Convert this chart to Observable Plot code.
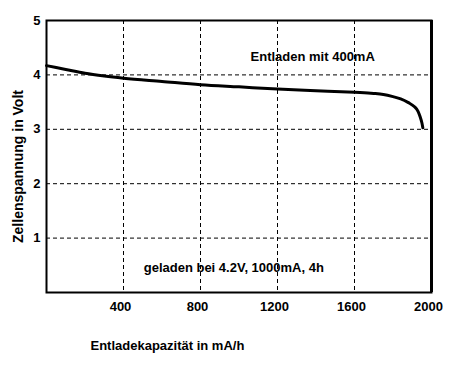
<!DOCTYPE html>
<html>
<head>
<meta charset="utf-8">
<script src="https://cdn.jsdelivr.net/npm/d3@7"></script>
<script src="https://cdn.jsdelivr.net/npm/@observablehq/plot@0.6"></script>
<style>
  html, body { margin: 0; padding: 0; background: #fff; }
  #chart svg { display: block; }
</style>
</head>
<body>
<div id="chart"></div>
<script>
const capacity = [0, 100, 200, 300, 400, 600, 800, 1000, 1200, 1400, 1600, 1700, 1750, 1800, 1840, 1880, 1910, 1930, 1940, 1950, 1955];
const voltage  = [4.17, 4.10, 4.03, 3.98, 3.94, 3.88, 3.82, 3.78, 3.74, 3.71, 3.68, 3.66, 3.64, 3.60, 3.56, 3.49, 3.42, 3.33, 3.24, 3.12, 3.03];
const xTicks = [400, 800, 1200, 1600, 2000];
const yTicks = [1, 2, 3, 4, 5];
const xGrid = [400, 800, 1200, 1600];
const yGrid = [1, 2, 3, 4];
const xLabel = "Entladekapazität in mA/h";
const yLabel = "Zellenspannung in Volt";
const noteTop = "Entladen mit 400mA";
const noteBottom = "geladen bei 4.2V, 1000mA, 4h";

const data = capacity.map((c, i) => ({c, v: voltage[i]}));
const font = "'Liberation Sans', Arial, sans-serif";

const chart = Plot.plot({
  width: 461,
  height: 372,
  marginLeft: 46,
  marginRight: 30,
  marginTop: 20,
  marginBottom: 80,
  style: {fontFamily: font, fontSize: "13px", fontWeight: "bold", background: "#fff", color: "#000"},
  x: {domain: [0, 2000]},
  y: {domain: [0, 5]},
  marks: [
    Plot.ruleX(xGrid, {stroke: "#000", strokeWidth: 1, strokeDasharray: "4,3"}),
    Plot.ruleY(yGrid, {stroke: "#000", strokeWidth: 1, strokeDasharray: "4,3"}),
    Plot.line(data, {x: "c", y: "v", stroke: "#000", strokeWidth: 3, curve: "monotone-x"}),
    Plot.frame({stroke: "#000", strokeWidth: 2}),
    Plot.ruleX([2000], {stroke: "#000", strokeWidth: 3}),
    Plot.axisX(xTicks, {tickSize: 0, tickPadding: 9, label: null, dx: -3, tickFormat: d => String(d), fontWeight: "bold", fontSize: 13}),
    Plot.axisY(yTicks, {tickSize: 0, tickPadding: 6, label: null, tickFormat: d => String(d), fontWeight: "bold", fontSize: 13}),
    Plot.text([noteTop], {x: 1060, y: 4.33, textAnchor: "start", fontWeight: "bold", fontSize: 13}),
    Plot.text([noteBottom], {x: 505, y: 0.45, textAnchor: "start", fontWeight: "bold", fontSize: 13}),
    Plot.text([xLabel], {frameAnchor: "bottom-left", dx: 44, dy: 57, textAnchor: "start", fontWeight: "bold", fontSize: 13}),
    Plot.text([yLabel], {frameAnchor: "left", rotate: -90, textAnchor: "middle", dx: -28, dy: 10, fontWeight: "bold", fontSize: 14})
  ]
});
document.getElementById("chart").appendChild(chart);
</script>
</body>
</html>
